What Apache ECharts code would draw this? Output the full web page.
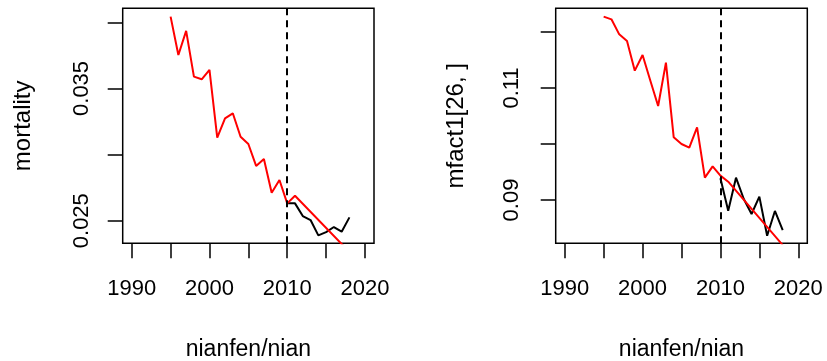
<!DOCTYPE html>
<html>
<head>
<meta charset="utf-8">
<script src="https://cdn.jsdelivr.net/npm/echarts@6/dist/echarts.min.js"></script>
<style>
  html, body { margin: 0; padding: 0; background: #fff; }
  #chart { width: 827px; height: 361px; }
</style>
</head>
<body>
<div id="chart"></div>
<script>
// Fitted series (red): 1995–2011, then the projection to 2018
const redYears = [1995, 1996, 1997, 1998, 1999, 2000, 2001, 2002, 2003, 2004,
                  2005, 2006, 2007, 2008, 2009, 2010, 2011, 2018];
const mortalityFit = [0.04043, 0.03753, 0.03935, 0.03589, 0.03569, 0.03640, 0.03128, 0.03274, 0.03312, 0.03135,
                      0.03080, 0.02914, 0.02966, 0.02712, 0.02808, 0.02631, 0.02689, 0.02263];
const mfactFit = [0.12274, 0.12226, 0.11958, 0.11839, 0.11310, 0.11589, 0.11130, 0.10679, 0.11452, 0.10119,
                  0.10000, 0.09935, 0.10298, 0.09399, 0.09601, 0.09435, 0.09327, 0.08196];

// Observed series (black): 2010–2018
const obsYears = [2010, 2011, 2012, 2013, 2014, 2015, 2016, 2017, 2018];
const mortalityObs = [0.02631, 0.02631, 0.02535, 0.02505, 0.02389, 0.02414, 0.02452, 0.02417, 0.02525];
const mfactObs = [0.09387, 0.08810, 0.09399, 0.09018, 0.08750, 0.09060, 0.08363, 0.08804, 0.08464];

// Axis ticks and labels
const xTicks = [1990, 1995, 2000, 2005, 2010, 2015, 2020];
const xLabels = [1990, 2000, 2010, 2020];
const yTicksLeft = [0.025, 0.030, 0.035, 0.040];
const yLabelsLeft = [0.025, 0.035];
const yTicksRight = [0.09, 0.10, 0.11, 0.12];
const yLabelsRight = [0.09, 0.11];
const splitYear = 2010;

const FONT = '"Liberation Sans", Arial, Helvetica, sans-serif';
const pairs = (xs, ys) => xs.map((x, i) => [x, ys[i]]);

function xAxisFor(gridIndex) {
  return {
    type: 'value', gridIndex,
    min: 1988.84, max: 2021.16,
    name: 'nianfen/nian', nameLocation: 'middle', nameGap: 95,
    nameTextStyle: { fontFamily: FONT, fontSize: 23, color: '#000' },
    axisLine: { show: false },
    splitLine: { show: false },
    axisTick: { show: true, length: 15, customValues: xTicks, lineStyle: { color: '#000', width: 1.5 } },
    axisLabel: { customValues: xLabels, margin: 35, fontFamily: FONT, fontSize: 22, color: '#000',
                 formatter: v => String(v) }
  };
}

function yAxisFor(gridIndex, min, max, ticks, labels, title, labelMargin, digits) {
  return {
    type: 'value', gridIndex, min, max,
    name: title, nameLocation: 'middle', nameRotate: 90, nameGap: 87,
    nameTextStyle: { fontFamily: FONT, fontSize: 24, color: '#000' },
    axisLine: { show: false },
    splitLine: { show: false },
    axisTick: { show: true, length: 15, customValues: ticks, lineStyle: { color: '#000', width: 1.5 } },
    axisLabel: { customValues: labels, rotate: 90, margin: labelMargin, fontFamily: FONT, fontSize: 22, color: '#000',
                 formatter: v => v.toFixed(digits) }
  };
}

function lineSeries(xi, data, color) {
  return {
    type: 'line', xAxisIndex: xi, yAxisIndex: xi, data,
    showSymbol: false, symbol: 'none', clip: true,
    lineStyle: { color, width: 2 }, z: 3
  };
}

function splitMark(xi) {
  return {
    type: 'line', xAxisIndex: xi, yAxisIndex: xi, data: [],
    markLine: {
      silent: true, symbol: 'none', label: { show: false },
      lineStyle: { color: '#000', type: [7, 5], width: 2 },
      data: [{ xAxis: splitYear }]
    }
  };
}

const gridBase = { top: 8.3, height: 235, show: true, borderColor: '#000', borderWidth: 1.5,
                   backgroundColor: 'transparent', containLabel: false, outerBoundsMode: 'none' };

const chart = echarts.init(document.getElementById('chart'), null, { renderer: 'canvas' });
chart.setOption({
  animation: false,
  backgroundColor: '#fff',
  grid: [
    Object.assign({ left: 122.7, width: 251.3 }, gridBase),
    Object.assign({ left: 555.7, width: 251.6 }, gridBase)
  ],
  xAxis: [xAxisFor(0), xAxisFor(1)],
  yAxis: [
    yAxisFor(0, 0.02329, 0.04106, yTicksLeft, yLabelsLeft, 'mortality', 30, 3),
    yAxisFor(1, 0.08227, 0.12423, yTicksRight, yLabelsRight, 'mfact1[26, ]', 33, 2)
  ],
  series: [
    splitMark(0),
    lineSeries(0, pairs(obsYears, mortalityObs), '#000'),
    lineSeries(0, pairs(redYears, mortalityFit), '#ff0000'),
    splitMark(1),
    lineSeries(1, pairs(obsYears, mfactObs), '#000'),
    lineSeries(1, pairs(redYears, mfactFit), '#ff0000')
  ]
});
</script>
</body>
</html>
